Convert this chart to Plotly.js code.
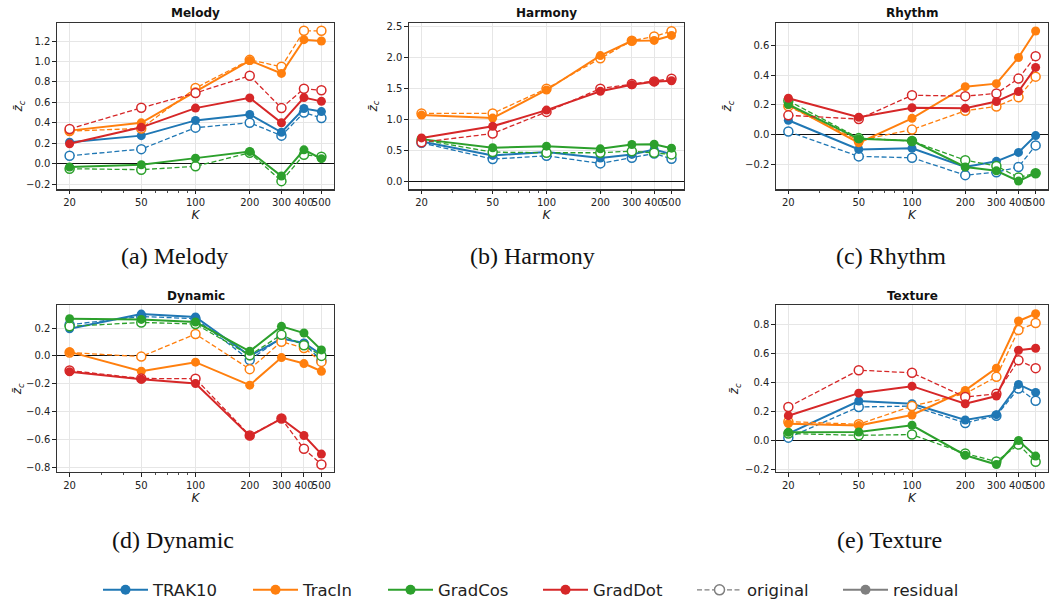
<!DOCTYPE html>
<html>
<head>
<meta charset="utf-8">
<script src="https://cdn.plot.ly/plotly-3.0.1.min.js"></script>
<style>html,body{margin:0;padding:0;background:#fff;}#chart{width:1049px;height:608px;}</style>
</head>
<body>
<div id="chart"></div>
<script>
// ---- data ----
const K = [20, 50, 100, 200, 300, 400, 500];
const xTickLabels = ['20', '50', '100', '200', '300', '400', '500'];
const methods = ['TRAK10', 'TracIn', 'GradCos', 'GradDot'];
const panels = ['Melody', 'Harmony', 'Rhythm', 'Dynamic', 'Texture'];
const captions = ['(a) Melody', '(b) Harmony', '(c) Rhythm', '(d) Dynamic', '(e) Texture'];

// Melody
const melody_trak_orig    = [0.078, 0.143, 0.353, 0.401, 0.275, 0.500, 0.447];
const melody_trak_res     = [0.210, 0.275, 0.424, 0.482, 0.308, 0.540, 0.510];
const melody_tracin_orig  = [0.320, 0.345, 0.740, 1.016, 0.948, 1.300, 1.300];
const melody_tracin_res   = [0.324, 0.400, 0.705, 1.009, 0.883, 1.213, 1.200];
const melody_gradcos_orig = [-0.048, -0.058, -0.025, 0.107, -0.170, 0.088, 0.068];
const melody_gradcos_res  = [-0.032, -0.010, 0.055, 0.120, -0.120, 0.136, 0.050];
const melody_graddot_orig = [0.340, 0.547, 0.692, 0.860, 0.544, 0.734, 0.718];
const melody_graddot_res  = [0.195, 0.356, 0.544, 0.644, 0.400, 0.647, 0.610];
// Harmony
const harmony_trak_orig    = [0.620, 0.358, 0.410, 0.288, 0.380, 0.449, 0.363];
const harmony_trak_res     = [0.640, 0.417, 0.470, 0.374, 0.433, 0.513, 0.438];
const harmony_tracin_orig  = [1.095, 1.095, 1.496, 1.987, 2.270, 2.340, 2.425];
const harmony_tracin_res   = [1.068, 1.020, 1.474, 2.030, 2.270, 2.276, 2.356];
const harmony_gradcos_orig = [0.670, 0.470, 0.460, 0.460, 0.486, 0.460, 0.433];
const harmony_gradcos_res  = [0.680, 0.540, 0.566, 0.523, 0.593, 0.598, 0.534];
const harmony_graddot_orig = [0.630, 0.770, 1.120, 1.496, 1.570, 1.613, 1.656];
const harmony_graddot_res  = [0.700, 0.887, 1.149, 1.453, 1.560, 1.608, 1.624];
// Rhythm
const rhythm_trak_orig    = [0.020, -0.147, -0.156, -0.273, -0.253, -0.218, -0.073];
const rhythm_trak_res     = [0.096, -0.100, -0.093, -0.218, -0.180, -0.120, -0.007];
const rhythm_tracin_orig  = [0.190, -0.040, 0.033, 0.160, 0.189, 0.251, 0.389];
const rhythm_tracin_res   = [0.200, -0.056, 0.109, 0.322, 0.342, 0.518, 0.696];
const rhythm_gradcos_orig = [0.227, -0.024, -0.044, -0.173, -0.211, -0.289, -0.260];
const rhythm_gradcos_res  = [0.202, -0.029, -0.042, -0.218, -0.244, -0.313, -0.260];
const rhythm_graddot_orig = [0.129, 0.104, 0.264, 0.258, 0.276, 0.376, 0.527];
const rhythm_graddot_res  = [0.244, 0.116, 0.180, 0.176, 0.222, 0.289, 0.451];
// Dynamic
const dynamic_trak_orig    = [0.224, 0.283, 0.267, -0.029, 0.131, 0.086, -0.033];
const dynamic_trak_res     = [0.195, 0.300, 0.279, 0.000, 0.124, 0.093, 0.010];
const dynamic_tracin_orig  = [0.024, -0.005, 0.157, -0.095, 0.102, 0.057, -0.043];
const dynamic_tracin_res   = [0.029, -0.110, -0.045, -0.210, -0.012, -0.055, -0.110];
const dynamic_gradcos_orig = [0.212, 0.240, 0.229, 0.005, 0.152, 0.076, 0.000];
const dynamic_gradcos_res  = [0.267, 0.262, 0.243, 0.033, 0.212, 0.164, 0.043];
const dynamic_graddot_orig = [-0.105, -0.162, -0.164, -0.571, -0.450, -0.667, -0.779];
const dynamic_graddot_res  = [-0.114, -0.167, -0.198, -0.574, -0.450, -0.571, -0.705];
// Texture
const texture_trak_orig    = [0.021, 0.232, 0.238, 0.122, 0.172, 0.359, 0.275];
const texture_trak_res     = [0.049, 0.273, 0.254, 0.142, 0.179, 0.387, 0.332];
const texture_tracin_orig  = [0.131, 0.113, 0.238, 0.323, 0.439, 0.761, 0.809];
const texture_tracin_res   = [0.117, 0.104, 0.177, 0.346, 0.499, 0.823, 0.873];
const texture_gradcos_orig = [0.049, 0.037, 0.042, -0.088, -0.143, -0.027, -0.145];
const texture_gradcos_res  = [0.058, 0.060, 0.106, -0.100, -0.164, 0.001, -0.106];
const texture_graddot_orig = [0.232, 0.485, 0.467, 0.300, 0.323, 0.553, 0.499];
const texture_graddot_res  = [0.172, 0.327, 0.375, 0.254, 0.307, 0.622, 0.636];

const panelData = [
  [[melody_trak_orig, melody_trak_res], [melody_tracin_orig, melody_tracin_res], [melody_gradcos_orig, melody_gradcos_res], [melody_graddot_orig, melody_graddot_res]],
  [[harmony_trak_orig, harmony_trak_res], [harmony_tracin_orig, harmony_tracin_res], [harmony_gradcos_orig, harmony_gradcos_res], [harmony_graddot_orig, harmony_graddot_res]],
  [[rhythm_trak_orig, rhythm_trak_res], [rhythm_tracin_orig, rhythm_tracin_res], [rhythm_gradcos_orig, rhythm_gradcos_res], [rhythm_graddot_orig, rhythm_graddot_res]],
  [[dynamic_trak_orig, dynamic_trak_res], [dynamic_tracin_orig, dynamic_tracin_res], [dynamic_gradcos_orig, dynamic_gradcos_res], [dynamic_graddot_orig, dynamic_graddot_res]],
  [[texture_trak_orig, texture_trak_res], [texture_tracin_orig, texture_tracin_res], [texture_gradcos_orig, texture_gradcos_res], [texture_graddot_orig, texture_graddot_res]]
];

// ---- styling / layout ----
const colors = ['#1f77b4', '#ff7f0e', '#2ca02c', '#d62728'];
const W = 1049, H = 608;
const px = v => v / W, py = v => 1 - v / H;
// plot-area boxes in pixels [left, right, top, bottom]
const boxes = [
  [57, 334, 23, 191],
  [409, 684, 23, 191],
  [776, 1048, 23, 191],
  [57, 334, 308, 476],
  [776, 1048, 308, 476]
];
const yRanges = [[-0.251, 1.378], [-0.133, 2.56], [-0.369, 0.751], [-0.834, 0.362], [-0.216, 0.930]];
const yTicks = [
  [-0.2, 0, 0.2, 0.4, 0.6, 0.8, 1.0, 1.2],
  [0, 0.5, 1.0, 1.5, 2.0, 2.5],
  [-0.2, 0, 0.2, 0.4, 0.6],
  [-0.8, -0.6, -0.4, -0.2, 0, 0.2],
  [-0.2, 0, 0.2, 0.4, 0.6, 0.8]
];
const yStandoff = [0, 6, 10, 0, 3];
const captionPos = [[174, 258], [532, 258], [891, 258], [173, 544], [889, 544]];

const tickFont = {family: 'DejaVu Sans', size: 10, color: '#222'};
const traces = [];
const layout = {
  width: W, height: H,
  margin: {l: 0, r: 0, t: 0, b: 0},
  paper_bgcolor: '#fff', plot_bgcolor: '#fff',
  showlegend: true,
  annotations: [],
  font: {family: 'DejaVu Sans', color: '#222'}
};

panels.forEach((name, i) => {
  const n = i + 1;
  const xa = n === 1 ? 'xaxis' : 'xaxis' + n;
  const ya = n === 1 ? 'yaxis' : 'yaxis' + n;
  const xr = n === 1 ? 'x' : 'x' + n;
  const yr = n === 1 ? 'y' : 'y' + n;
  const b = boxes[i];
  layout[xa] = {
    type: 'log', domain: [px(b[0]), px(b[1])], anchor: yr,
    range: [Math.log10(20) - 0.0699, Math.log10(500) + 0.0699],
    tickmode: 'array', tickvals: K, ticktext: xTickLabels, tickangle: 0,
    ticks: 'outside', ticklen: 3.5, tickwidth: 1, tickcolor: '#222',
    tickfont: tickFont,
    minor: {tickmode: 'array', tickvals: [30, 40, 60, 70, 80, 90], ticks: 'outside', ticklen: 2, tickwidth: 0.8, tickcolor: '#222', showgrid: false},
    showgrid: true, gridcolor: '#e6e6e6', gridwidth: 1,
    showline: true, mirror: true, linecolor: '#333', linewidth: 1.2,
    zeroline: false,
    title: {text: '<i>K</i>', font: {family: 'DejaVu Sans', size: 12, color: '#222'}, standoff: 2}
  };
  layout[ya] = {
    domain: [py(b[3]), py(b[2])], anchor: xr,
    range: yRanges[i],
    tickmode: 'array', tickvals: yTicks[i], tickformat: '.1f',
    ticks: 'outside', ticklen: 3.5, tickwidth: 1, tickcolor: '#222',
    tickfont: tickFont,
    showgrid: true, gridcolor: '#e6e6e6', gridwidth: 1,
    showline: true, mirror: true, linecolor: '#333', linewidth: 1.2,
    zeroline: true, zerolinecolor: '#111', zerolinewidth: 1.2,
    title: {text: '<i>z\u0304</i><sub><i>c</i></sub>', font: {family: 'DejaVu Sans', size: 12, color: '#222'}, standoff: yStandoff[i]}
  };
  // panel title
  layout.annotations.push({
    text: '<b>' + name + '</b>', xref: 'paper', yref: 'paper',
    x: px((b[0] + b[1]) / 2), y: py(b[2] - 10), xanchor: 'center', yanchor: 'middle',
    showarrow: false, font: {family: 'DejaVu Sans', size: 12, color: '#111'}
  });
  // caption
  layout.annotations.push({
    text: captions[i], xref: 'paper', yref: 'paper',
    x: px(captionPos[i][0]), y: py(captionPos[i][1]), xanchor: 'center', yanchor: 'middle',
    showarrow: false, font: {family: 'Liberation Serif', size: 24, color: '#111'}
  });
  methods.forEach((m, j) => {
    const [orig, res] = panelData[i][j];
    traces.push({
      x: K, y: orig, xaxis: xr, yaxis: yr, type: 'scatter', mode: 'lines+markers',
      name: m + ' original', showlegend: false, hoverinfo: 'skip', cliponaxis: false,
      line: {color: colors[j], width: 1.3, dash: '5px,2.5px'},
      marker: {symbol: 'circle', size: 9, color: '#fff', line: {color: colors[j], width: 1.5}}
    });
    traces.push({
      x: K, y: res, xaxis: xr, yaxis: yr, type: 'scatter', mode: 'lines+markers',
      name: m + ' residual', showlegend: false, hoverinfo: 'skip', cliponaxis: false,
      line: {color: colors[j], width: 2},
      marker: {symbol: 'circle', size: 9, color: colors[j], line: {width: 0}}
    });
  });
});

// ---- legend (one legend box per entry, placed in a row) ----
const legendNames = ['TRAK10', 'TracIn', 'GradCos', 'GradDot', 'original', 'residual'];
const legendColors = [colors[0], colors[1], colors[2], colors[3], '#7f7f7f', '#7f7f7f'];
const legendTextX = [153, 303, 438, 593, 747, 893];
legendNames.forEach((nm, k) => {
  const lid = k === 0 ? 'legend' : 'legend' + (k + 1);
  const isOrig = nm === 'original';
  traces.push({
    x: [null], y: [null], xaxis: 'x', yaxis: 'y', type: 'scatter', mode: 'lines+markers',
    name: nm, legend: lid, showlegend: true, hoverinfo: 'skip',
    line: isOrig ? {color: legendColors[k], width: 1.3, dash: '5px,2.5px'} : {color: legendColors[k], width: 2},
    marker: isOrig ? {symbol: 'circle', size: 10, color: '#fff', line: {color: legendColors[k], width: 1.5}}
                   : {symbol: 'circle', size: 10, color: legendColors[k], line: {width: 0}}
  });
  layout[lid] = {
    x: px(legendTextX[k] - 55), y: py(595), xanchor: 'left', yanchor: 'middle',
    orientation: 'h', bgcolor: 'rgba(0,0,0,0)', borderwidth: 0, itemwidth: 45,
    font: {family: 'DejaVu Sans', size: 16.5, color: '#222'}
  };
});

Plotly.newPlot('chart', traces, layout, {staticPlot: true, displayModeBar: false});
</script>
</body>
</html>
